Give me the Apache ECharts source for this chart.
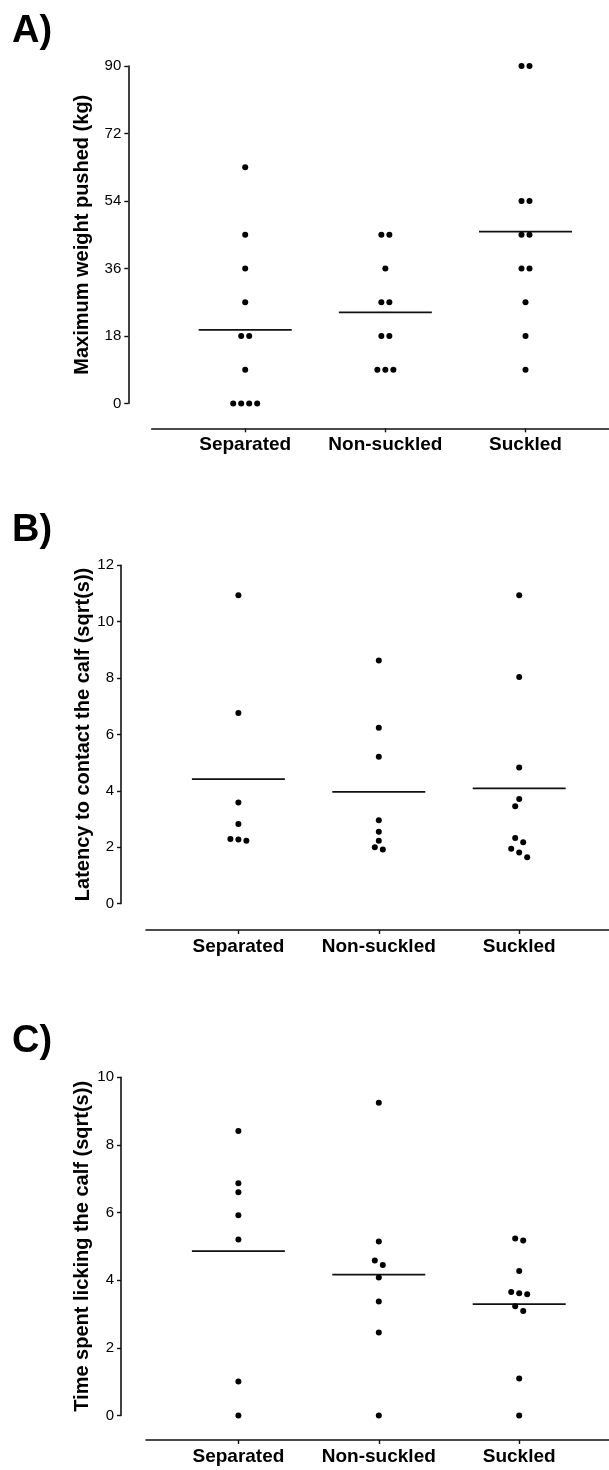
<!DOCTYPE html>
<html>
<head>
<meta charset="utf-8">
<script src="https://cdn.jsdelivr.net/npm/echarts@6/dist/echarts.min.js"></script>
<style>
  html, body { margin: 0; padding: 0; background: #fff; }
  #chart { width: 609px; height: 1470px; }
</style>
</head>
<body>
<div id="chart"></div>
<script>
// ---------------- data ----------------
const categories = ['Separated', 'Non-suckled', 'Suckled'];

const weightSeparated  = [63, 45, 36, 27, 18, 18, 9, 0, 0, 0, 0];
const weightNonSuckled = [45, 45, 36, 27, 27, 18, 18, 9, 9, 9];
const weightSuckled    = [90, 90, 54, 54, 45, 45, 36, 36, 27, 18, 9];

const latencySeparated  = [10.94, 6.76, 3.59, 2.82, 2.29, 2.23, 2.27];
const latencyNonSuckled = [8.62, 6.24, 5.21, 2.96, 2.55, 2.23, 2.0, 1.92];
const latencySuckled    = [10.94, 8.04, 4.83, 3.71, 3.45, 2.33, 2.18, 1.95, 1.81, 1.64];

const lickingSeparated  = [8.41, 6.87, 6.60, 5.92, 5.20, 1.0, 0];
const lickingNonSuckled = [9.25, 5.14, 4.58, 4.45, 4.08, 3.37, 2.45, 0];
const lickingSuckled    = [5.23, 5.17, 4.27, 3.65, 3.61, 3.58, 3.23, 3.09, 1.09, 0];

const ticksWeight  = [0, 18, 36, 54, 72, 90];
const ticksLatency = [0, 2, 4, 6, 8, 10, 12];
const ticksLicking = [0, 2, 4, 6, 8, 10];

const panelLetters = ['A)', 'B)', 'C)'];
const axisTitles = [
  'Maximum weight pushed (kg)',
  'Latency to contact the calf (sqrt(s))',
  'Time spent licking the calf (sqrt(s))'
];

// ---------------- layout ----------------
const W = 609;
const H = 1470;
const FONT = 'Liberation Sans, Arial, sans-serif';
const INK = '#111';

const layouts = [
  { axisX: 128.3, top: 66,     bottom: 403.5,  xLineY: 428.3, xStart: 151.7, c0: 245.2, c2: 525.5, nameGap: 35.5, letterTop: 13 },
  { axisX: 121,   top: 565.3,  bottom: 903.6,  xLineY: 930,   xStart: 146,   c0: 238.4, c2: 519.2, nameGap: 27.5, letterTop: 512 },
  { axisX: 121,   top: 1077.3, bottom: 1415.4, xLineY: 1440,  xStart: 146,   c0: 238.4, c2: 519.2, nameGap: 28.5, letterTop: 1023 }
];

const panels = [
  { groups: [weightSeparated, weightNonSuckled, weightSuckled], ticks: ticksWeight },
  { groups: [latencySeparated, latencyNonSuckled, latencySuckled], ticks: ticksLatency },
  { groups: [lickingSeparated, lickingNonSuckled, lickingSuckled], ticks: ticksLicking }
];

// simple beeswarm: values within rowGap px form a centred row, others avoid collisions
function swarm(values, pxPerUnit) {
  const step = 8, rowGap = 5, collide = 7.5;
  const order = values.map((v, i) => i).sort((a, b) => values[b] - values[a]);
  const rows = [];
  order.forEach((idx, k) => {
    if (k > 0) {
      const prev = order[k - 1];
      if ((values[prev] - values[idx]) * pxPerUnit < rowGap) {
        rows[rows.length - 1].push(idx);
        return;
      }
    }
    rows.push([idx]);
  });
  const offsets = new Array(values.length).fill(0);
  const placed = [];
  rows.forEach(row => {
    if (row.length > 1) {
      row.forEach((idx, j) => {
        offsets[idx] = (j - (row.length - 1) / 2) * step;
        placed.push([offsets[idx], values[idx] * pxPerUnit]);
      });
    } else {
      const idx = row[0];
      const y = values[idx] * pxPerUnit;
      const cands = [0, -4, 4, -8, 8, -12, 12, -16, 16];
      let best = 0;
      for (const c of cands) {
        const ok = placed.every(p => Math.hypot(p[0] - c, p[1] - y) >= collide);
        if (ok) { best = c; break; }
      }
      offsets[idx] = best;
      placed.push([best, y]);
    }
  });
  return offsets;
}

const grids = [], xAxes = [], yAxes = [], series = [], graphics = [];

panels.forEach((p, pi) => {
  const L = layouts[pi];
  const yMin = p.ticks[0];
  const yMax = p.ticks[p.ticks.length - 1];
  const interval = p.ticks[1] - p.ticks[0];
  const plotH = L.bottom - L.top;
  const pxPerUnit = plotH / (yMax - yMin);
  const sp = (L.c2 - L.c0) / 2;

  grids.push({ left: L.xStart, right: 0, top: L.top, height: plotH, containLabel: false });

  xAxes.push({
    gridIndex: pi,
    type: 'value',
    min: (L.xStart - L.c0) / sp,
    max: (W - L.c0) / sp,
    offset: L.xLineY - L.bottom,
    axisLine: { show: true, onZero: false, lineStyle: { color: INK, width: 1.6 } },
    axisTick: { show: true, customValues: [0, 1, 2], length: 4, lineStyle: { color: INK, width: 1.4 } },
    axisLabel: {
      show: true, customValues: [0, 1, 2], margin: 7,
      formatter: v => categories[Math.round(v)] || '',
      fontFamily: FONT, fontWeight: 'bold', fontSize: 19, color: '#000'
    },
    splitLine: { show: false }
  });

  yAxes.push({
    gridIndex: pi,
    type: 'value',
    min: yMin, max: yMax, interval: interval,
    offset: L.xStart - L.axisX,
    axisLine: { show: true, onZero: false, lineStyle: { color: INK, width: 1.6 } },
    axisTick: { show: true, length: 4, lineStyle: { color: INK, width: 1.4 } },
    axisLabel: { fontFamily: FONT, fontSize: 15, color: '#000', margin: 7 },
    splitLine: { show: false },
    name: axisTitles[pi],
    nameLocation: 'middle',
    nameRotate: 90,
    nameGap: L.nameGap,
    nameMoveOverlap: false,
    nameTextStyle: { fontFamily: FONT, fontWeight: 'bold', fontSize: 20, color: '#000' }
  });

  p.groups.forEach((vals, gi) => {
    const offs = swarm(vals, pxPerUnit);
    series.push({
      type: 'scatter',
      xAxisIndex: pi, yAxisIndex: pi,
      symbol: 'circle', symbolSize: 6,
      itemStyle: { color: '#000', opacity: 1 },
      silent: true,
      z: 3,
      data: vals.map((v, i) => ({ value: [gi, v], symbolOffset: [offs[i], 0] }))
    });
    const mean = vals.reduce((a, b) => a + b, 0) / vals.length;
    series.push({
      type: 'scatter',
      xAxisIndex: pi, yAxisIndex: pi,
      symbol: 'rect', symbolSize: [93, 1.7],
      itemStyle: { color: '#111', opacity: 1 },
      silent: true,
      z: 2,
      data: [[gi, mean]]
    });
  });

  graphics.push({
    type: 'text', left: 12, top: L.letterTop,
    style: { text: panelLetters[pi], fontFamily: FONT, fontWeight: 'bold', fontSize: 38, fill: '#000' }
  });
});

const chart = echarts.init(document.getElementById('chart'), null, { renderer: 'canvas', width: W, height: H });
chart.setOption({
  animation: false,
  backgroundColor: '#fff',
  grid: grids,
  xAxis: xAxes,
  yAxis: yAxes,
  series: series,
  graphic: graphics
});
</script>
</body>
</html>
